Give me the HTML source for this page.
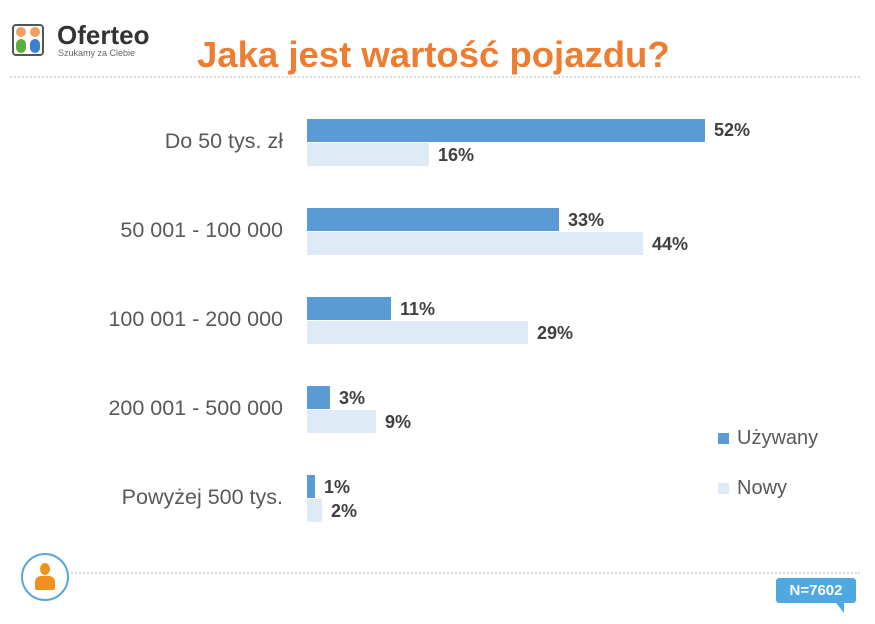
<!DOCTYPE html>
<html><head><meta charset="utf-8"><style>
body{margin:0;width:875px;height:624px;background:#fff;position:relative;overflow:hidden;font-family:"Liberation Sans",sans-serif}
.a{position:absolute}
.cat{position:absolute;right:592px;font-size:21.5px;color:#595959;white-space:nowrap}
.bar{position:absolute;left:307px;height:23px}
.d{background:#5B9BD5}.l{background:#DEEBF7}
.v{position:absolute;font-size:18px;font-weight:bold;color:#404040}
</style></head><body>
<div class="a" style="left:12px;top:24px;width:32px;height:32px;border:2px solid #555;border-radius:4px;box-sizing:border-box"></div>
<div class="a" style="left:16px;top:27px;width:10px;height:10px;border-radius:50%;background:#F0A060"></div>
<div class="a" style="left:30px;top:27px;width:10px;height:10px;border-radius:50%;background:#F0A060"></div>
<div class="a" style="left:16px;top:39px;width:10px;height:14px;border-radius:5px;background:#5CAF3E"></div>
<div class="a" style="left:30px;top:39px;width:10px;height:14px;border-radius:5px;background:#3B7FD0"></div>
<div class="a" style="left:57px;top:20px;font-size:26px;font-weight:bold;color:#333">Oferteo</div>
<div class="a" style="left:58px;top:48px;font-size:9px;color:#666">Szukamy za Ciebie</div>
<div class="a" style="left:197px;top:34px;font-size:36.5px;font-weight:bold;color:#ED7D31">Jaka jest wartość pojazdu?</div>
<div class="a" style="left:10px;top:76px;width:850px;border-top:2px dotted #ddd"></div>
<div class="a" style="left:48px;top:572px;width:812px;border-top:2px dotted #ddd"></div>

<div class="cat" style="top:129px">Do 50 tys. zł</div>
<div class="cat" style="top:218px">50 001 - 100 000</div>
<div class="cat" style="top:307px">100 001 - 200 000</div>
<div class="cat" style="top:396px">200 001 - 500 000</div>
<div class="cat" style="top:485px">Powyżej 500 tys.</div>

<div class="bar d" style="top:119px;width:398px"></div><div class="v" style="left:714px;top:120px">52%</div>
<div class="bar l" style="top:143px;width:122px"></div><div class="v" style="left:438px;top:145px">16%</div>
<div class="bar d" style="top:208px;width:252px"></div><div class="v" style="left:568px;top:210px">33%</div>
<div class="bar l" style="top:232px;width:336px"></div><div class="v" style="left:652px;top:234px">44%</div>
<div class="bar d" style="top:297px;width:84px"></div><div class="v" style="left:400px;top:299px">11%</div>
<div class="bar l" style="top:321px;width:221px"></div><div class="v" style="left:537px;top:323px">29%</div>
<div class="bar d" style="top:386px;width:23px"></div><div class="v" style="left:339px;top:388px">3%</div>
<div class="bar l" style="top:410px;width:69px"></div><div class="v" style="left:385px;top:412px">9%</div>
<div class="bar d" style="top:475px;width:8px"></div><div class="v" style="left:324px;top:477px">1%</div>
<div class="bar l" style="top:499px;width:15px"></div><div class="v" style="left:331px;top:501px">2%</div>

<div class="a" style="left:718px;top:433px;width:11px;height:11px;background:#5B9BD5"></div>
<div class="a" style="left:737px;top:427px;font-size:20px;color:#595959">Używany</div>
<div class="a" style="left:718px;top:483px;width:11px;height:11px;background:#DEEBF7"></div>
<div class="a" style="left:737px;top:477px;font-size:20px;color:#595959">Nowy</div>

<div class="a" style="left:21px;top:553px;width:48px;height:48px;border:2px solid #5BA7DB;border-radius:50%;box-sizing:border-box;background:#fff"></div>
<div class="a" style="left:40px;top:563px;width:10px;height:12px;border-radius:50%;background:#F0901E"></div>
<div class="a" style="left:35px;top:576px;width:20px;height:14px;border-radius:6px 6px 2px 2px;background:#F0901E"></div>

<div class="a" style="left:776px;top:578px;width:80px;height:25px;background:#4FA8E0;border-radius:3px;color:#fff;font-weight:bold;font-size:15px;text-align:center;line-height:25px">N=7602</div>
<div class="a" style="left:836px;top:603px;width:0;height:0;border-left:8px solid transparent;border-top:10px solid #4FA8E0"></div>
</body></html>
